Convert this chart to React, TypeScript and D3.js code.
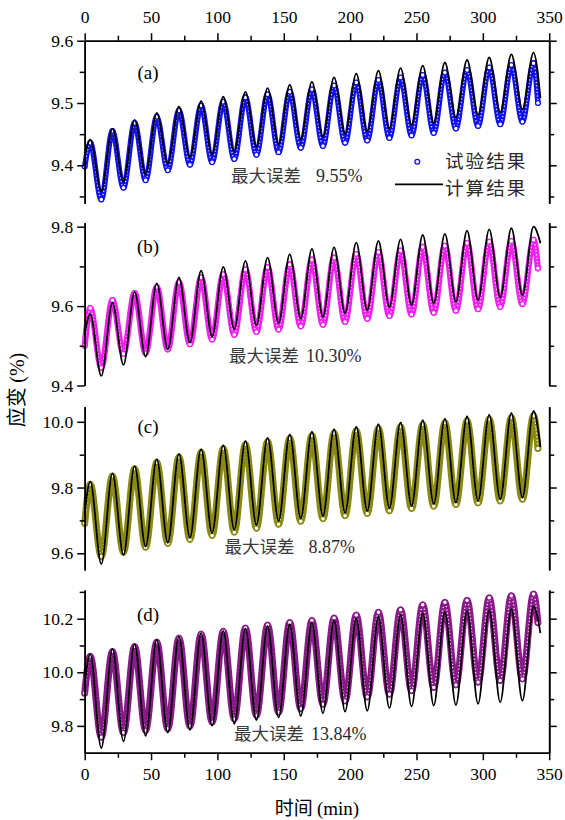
import React, { useEffect, useRef } from "react";
import * as d3 from "d3";

// Times (min) of the oscillation extrema, shared by all four panels
const peakTimes = [4.2, 20.9, 37.6, 54.3, 71.0, 87.7, 104.4, 121.1, 137.8, 154.5, 171.2, 187.9, 204.6, 221.3, 238.0, 254.7, 271.4, 288.1, 304.8, 321.5, 338.2];
const troughTimes = [12.5, 29.2, 45.9, 62.6, 79.3, 96.0, 112.7, 129.4, 146.1, 162.8, 179.5, 196.2, 212.9, 229.6, 246.3, 263.0, 279.7, 296.4, 313.1, 329.8];
// time of the last sample of each series
const calcEndTime = 343.4;
const expEndTime = 341.5;

// (a)
const calcPeaksA = [9.441, 9.459, 9.473, 9.484, 9.494, 9.503, 9.510, 9.518, 9.524, 9.529, 9.534, 9.541, 9.547, 9.552, 9.556, 9.560, 9.565, 9.569, 9.573, 9.578, 9.581];
const calcTroughsA = [9.358, 9.374, 9.386, 9.403, 9.413, 9.417, 9.422, 9.430, 9.434, 9.442, 9.446, 9.451, 9.455, 9.459, 9.465, 9.468, 9.477, 9.481, 9.485, 9.490];
const calcEndsA = [9.414, 9.508];
const expPeaksA = [9.436, 9.455, 9.468, 9.478, 9.488, 9.496, 9.502, 9.509, 9.514, 9.518, 9.522, 9.528, 9.533, 9.537, 9.541, 9.545, 9.549, 9.553, 9.557, 9.561, 9.564];
const expTroughsA = [9.345, 9.364, 9.376, 9.392, 9.401, 9.405, 9.410, 9.417, 9.421, 9.428, 9.431, 9.436, 9.440, 9.444, 9.448, 9.452, 9.459, 9.463, 9.466, 9.470];
const expEndsA = [9.398, 9.500];

// (b)
const calcPeaksB = [9.580, 9.609, 9.636, 9.657, 9.672, 9.689, 9.699, 9.714, 9.722, 9.730, 9.744, 9.748, 9.760, 9.764, 9.768, 9.779, 9.782, 9.790, 9.793, 9.796, 9.800];
const calcTroughsB = [9.424, 9.452, 9.473, 9.491, 9.508, 9.523, 9.542, 9.552, 9.557, 9.569, 9.573, 9.582, 9.590, 9.598, 9.603, 9.607, 9.611, 9.615, 9.622, 9.628];
const calcEndsB = [9.531, 9.758];
const expPeaksB = [9.595, 9.615, 9.633, 9.648, 9.660, 9.672, 9.680, 9.692, 9.698, 9.705, 9.717, 9.722, 9.731, 9.736, 9.740, 9.749, 9.752, 9.759, 9.762, 9.764, 9.767];
const expTroughsB = [9.445, 9.480, 9.482, 9.491, 9.504, 9.516, 9.528, 9.535, 9.541, 9.549, 9.553, 9.560, 9.568, 9.575, 9.579, 9.583, 9.588, 9.592, 9.598, 9.605];
const expEndsB = [9.500, 9.695];

// (c)
const calcPeaksC = [9.818, 9.843, 9.865, 9.886, 9.902, 9.917, 9.929, 9.942, 9.951, 9.962, 9.970, 9.978, 9.985, 9.993, 9.998, 10.005, 10.010, 10.017, 10.022, 10.027, 10.033];
const calcTroughsC = [9.567, 9.595, 9.620, 9.632, 9.647, 9.661, 9.671, 9.686, 9.698, 9.706, 9.713, 9.723, 9.729, 9.737, 9.744, 9.750, 9.754, 9.759, 9.764, 9.769];
const calcEndsC = [9.722, 9.924];
const expPeaksC = [9.810, 9.835, 9.857, 9.877, 9.893, 9.907, 9.919, 9.931, 9.940, 9.950, 9.958, 9.966, 9.973, 9.980, 9.985, 9.992, 9.997, 10.003, 10.008, 10.013, 10.019];
const expTroughsC = [9.590, 9.603, 9.618, 9.630, 9.642, 9.654, 9.664, 9.676, 9.688, 9.697, 9.705, 9.714, 9.721, 9.729, 9.736, 9.743, 9.748, 9.753, 9.759, 9.764];
const expEndsC = [9.691, 9.919];

// (d)
const calcPeaksD = [10.068, 10.087, 10.105, 10.121, 10.133, 10.146, 10.154, 10.164, 10.173, 10.180, 10.186, 10.195, 10.201, 10.207, 10.214, 10.220, 10.224, 10.229, 10.232, 10.236, 10.245];
const calcTroughsD = [9.717, 9.742, 9.763, 9.775, 9.785, 9.801, 9.808, 9.822, 9.831, 9.837, 9.847, 9.853, 9.856, 9.866, 9.872, 9.876, 9.878, 9.882, 9.888, 9.894];
const calcEndsD = [9.955, 10.146];
const expPeaksD = [10.060, 10.078, 10.096, 10.113, 10.128, 10.143, 10.153, 10.165, 10.176, 10.186, 10.193, 10.203, 10.214, 10.224, 10.233, 10.252, 10.261, 10.269, 10.278, 10.286, 10.292];
const expTroughsD = [9.758, 9.774, 9.783, 9.789, 9.799, 9.814, 9.826, 9.839, 9.851, 9.864, 9.881, 9.893, 9.908, 9.918, 9.931, 9.943, 9.953, 9.963, 9.969, 9.975];
const expEndsD = [9.922, 10.185];

// axis ticks
const xMajorTicks = [0, 50, 100, 150, 200, 250, 300, 350];
const xMinorTicks = [25, 75, 125, 175, 225, 275, 325];
const yMajorA = [9.4, 9.5, 9.6];
const yMinorA = [9.35, 9.45, 9.55];
const yMajorB = [9.4, 9.6, 9.8];
const yMinorB = [9.5, 9.7];
const yMajorC = [9.6, 9.8, 10.0];
const yMinorC = [9.7, 9.9];
const yMajorD = [9.8, 10.0, 10.2];
const yMinorD = [9.9, 10.1, 10.3];

const panelLabels = ["(a)", "(b)", "(c)", "(d)"];
const maxErrors = ["9.55%", "10.30%", "8.87%", "13.84%"];
const legendLabels = ["试验结果", "计算结果"];

const SERIF = "'Liberation Serif', 'Times New Roman', Times, serif";
const CJK = "'Noto Sans CJK SC', 'Noto Sans CJK JP', sans-serif";

type Pt = [number, number];

function buildSeries(ends: number[], peaks: number[], troughs: number[], endTime: number): Pt[] {
  const pts: Pt[] = [[0, ends[0]]];
  peaks.forEach((v, i) => {
    pts.push([peakTimes[i], v]);
    if (i < troughs.length) pts.push([troughTimes[i], troughs[i]]);
  });
  pts.push([endTime, ends[1]]);
  return pts;
}

const panels = [
  {
    top: 40.7, bottom: 203.3, domain: [9.339, 9.6], major: yMajorA, minor: yMinorA,
    color: "#1010f0", band: 5.6,
    calc: buildSeries(calcEndsA, calcPeaksA, calcTroughsA, calcEndTime),
    exp: buildSeries(expEndsA, expPeaksA, expTroughsA, expEndTime),
    labelY: 79, noteX: 231, noteNumX: 316, noteY: 181.5,
  },
  {
    top: 222.7, bottom: 385.5, domain: [9.4, 9.81], major: yMajorB, minor: yMinorB,
    color: "#f020f0", band: 6.2,
    calc: buildSeries(calcEndsB, calcPeaksB, calcTroughsB, calcEndTime),
    exp: buildSeries(expEndsB, expPeaksB, expTroughsB, expEndTime),
    labelY: 253, noteX: 229, noteNumX: 306, noteY: 361.5,
  },
  {
    top: 406.7, bottom: 570, domain: [9.549, 10.046], major: yMajorC, minor: yMinorC,
    color: "#8a8a10", band: 7,
    calc: buildSeries(calcEndsC, calcPeaksC, calcTroughsC, calcEndTime),
    exp: buildSeries(expEndsC, expPeaksC, expTroughsC, expEndTime),
    labelY: 433, noteX: 224.5, noteNumX: 308.5, noteY: 553,
  },
  {
    top: 590, bottom: 752.7, domain: [9.7, 10.307], major: yMajorD, minor: yMinorD,
    color: "#8a1a8a", band: 7,
    calc: buildSeries(calcEndsD, calcPeaksD, calcTroughsD, calcEndTime),
    exp: buildSeries(expEndsD, expPeaksD, expTroughsD, expEndTime),
    labelY: 621, noteX: 234, noteNumX: 311, noteY: 739.5,
  },
];

const X_LEFT = 84.7;
const X_RIGHT = 549.2;

function styleAxis(g: d3.Selection<SVGGElement, unknown, null, undefined>) {
  g.attr("font-family", null).attr("font-size", null)
    .style("font-family", SERIF).style("font-size", "17.5px");
  g.selectAll(".domain").attr("stroke", "#000").attr("stroke-width", 1.6);
  g.selectAll(".tick line").attr("stroke", "#000").attr("stroke-width", 1.5);
  g.selectAll(".tick text").attr("fill", "#000").style("font-family", SERIF);
}

export default function App() {
  const ref = useRef<SVGSVGElement>(null);

  useEffect(() => {
    const svg = d3.select(ref.current as SVGSVGElement);
    svg.selectAll("*").remove();

    const x = d3.scaleLinear().domain([0, 350]).range([X_LEFT, X_RIGHT]);

    panels.forEach((p, idx) => {
      const y = d3.scaleLinear().domain(p.domain).range([p.bottom, p.top]);
      const line = d3
        .line<Pt>()
        .x((d) => x(d[0]))
        .y((d) => y(d[1]))
        .curve(d3.curveMonotoneX);
      const g = svg.append("g");

      // measured series: dense ring markers form a band along the record
      g.append("path")
        .attr("d", line(p.exp))
        .attr("fill", "none")
        .attr("stroke", p.color)
        .attr("stroke-width", p.band)
        .attr("stroke-linecap", "round")
        .attr("stroke-linejoin", "round");
      g.append("path")
        .attr("d", line(p.exp))
        .attr("fill", "none")
        .attr("stroke", "#fff")
        .attr("stroke-width", 1.5)
        .attr("stroke-dasharray", "0 3.4")
        .attr("stroke-linecap", "round")
        .attr("opacity", 0.9);
      g.selectAll("circle.exp")
        .data(p.exp)
        .join("circle")
        .attr("class", "exp")
        .attr("cx", (d) => x(d[0]))
        .attr("cy", (d) => y(d[1]))
        .attr("r", 2.4)
        .attr("fill", "#fff")
        .attr("stroke", p.color)
        .attr("stroke-width", 1.3);

      // calculated series
      g.append("path")
        .attr("d", line(p.calc))
        .attr("fill", "none")
        .attr("stroke", "#000")
        .attr("stroke-width", 1.8);

      // left axis
      const left = g.append("g").attr("transform", `translate(${X_LEFT},0)`);
      left.call(
        d3.axisLeft(y).tickValues(p.major).tickSize(7.5).tickSizeOuter(0).tickPadding(4).tickFormat(d3.format(".1f"))
      );
      styleAxis(left);
      const leftMinor = g.append("g").attr("transform", `translate(${X_LEFT},0)`);
      leftMinor.call(d3.axisLeft(y).tickValues(p.minor).tickSize(5).tickSizeOuter(0).tickFormat(() => ""));
      styleAxis(leftMinor);

      // right axis
      const right = g.append("g").attr("transform", `translate(${X_RIGHT},0)`);
      right.call(d3.axisRight(y).tickValues(p.major).tickSize(7.5).tickSizeOuter(0).tickFormat(() => ""));
      styleAxis(right);
      const rightMinor = g.append("g").attr("transform", `translate(${X_RIGHT},0)`);
      rightMinor.call(d3.axisRight(y).tickValues(p.minor).tickSize(5).tickSizeOuter(0).tickFormat(() => ""));
      styleAxis(rightMinor);

      if (idx === 0) {
        const topAx = g.append("g").attr("transform", `translate(0,${p.top})`);
        topAx.call(d3.axisTop(x).tickValues(xMajorTicks).tickSize(7.5).tickSizeOuter(0).tickPadding(10).tickFormat(d3.format("d")));
        styleAxis(topAx);
        const topMinor = g.append("g").attr("transform", `translate(0,${p.top})`);
        topMinor.call(d3.axisTop(x).tickValues(xMinorTicks).tickSize(5).tickSizeOuter(0).tickFormat(() => ""));
        styleAxis(topMinor);
      }
      if (idx === panels.length - 1) {
        const botAx = g.append("g").attr("transform", `translate(0,${p.bottom})`);
        botAx.call(d3.axisBottom(x).tickValues(xMajorTicks).tickSize(7.5).tickSizeOuter(0).tickPadding(7.5).tickFormat(d3.format("d")));
        styleAxis(botAx);
        const botMinor = g.append("g").attr("transform", `translate(0,${p.bottom})`);
        botMinor.call(d3.axisBottom(x).tickValues(xMinorTicks).tickSize(5).tickSizeOuter(0).tickFormat(() => ""));
        styleAxis(botMinor);
      }

      // panel tag
      g.append("text")
        .attr("x", 148)
        .attr("y", p.labelY)
        .attr("text-anchor", "middle")
        .style("font-family", SERIF)
        .style("font-size", "19px")
        .text(panelLabels[idx]);

      // maximum error note
      g.append("text")
        .attr("x", p.noteX)
        .attr("y", p.noteY)
        .style("font-family", CJK)
        .style("font-size", "17.5px")
        .attr("fill", "#3a3a3a")
        .text("最大误差");
      g.append("text")
        .attr("x", p.noteNumX)
        .attr("y", p.noteY)
        .style("font-family", SERIF)
        .style("font-size", "18px")
        .attr("fill", "#2a2a2a")
        .text(maxErrors[idx]);
    });

    // legend in panel (a)
    const lg = svg.append("g");
    lg.append("circle")
      .attr("cx", 417.3)
      .attr("cy", 161.7)
      .attr("r", 2.4)
      .attr("fill", "none")
      .attr("stroke", panels[0].color)
      .attr("stroke-width", 1.3);
    lg.append("text")
      .attr("x", 445)
      .attr("y", 167.5)
      .style("font-family", CJK)
      .style("font-size", "18.6px")
      .style("letter-spacing", "2px")
      .attr("fill", "#2a2a2a")
      .text(legendLabels[0]);
    lg.append("line")
      .attr("x1", 395)
      .attr("x2", 443)
      .attr("y1", 184.3)
      .attr("y2", 184.3)
      .attr("stroke", "#000")
      .attr("stroke-width", 1.8);
    lg.append("text")
      .attr("x", 445)
      .attr("y", 194.5)
      .style("font-family", CJK)
      .style("font-size", "18.6px")
      .style("letter-spacing", "2px")
      .attr("fill", "#2a2a2a")
      .text(legendLabels[1]);

    // axis titles
    const yt = svg
      .append("text")
      .attr("transform", "translate(24,390) rotate(-90)")
      .attr("text-anchor", "middle")
      .style("font-size", "20px");
    yt.append("tspan").style("font-family", CJK).text("应变 ");
    yt.append("tspan").style("font-family", SERIF).text("(%)");

    const xt = svg
      .append("text")
      .attr("x", (X_LEFT + X_RIGHT) / 2)
      .attr("y", 815)
      .attr("text-anchor", "middle")
      .style("font-size", "19px");
    xt.append("tspan").style("font-family", CJK).text("时间 ");
    xt.append("tspan").style("font-family", SERIF).text("(min)");
  }, []);

  return (
    <svg
      ref={ref}
      width={565}
      height={820}
      style={{ position: "absolute", left: 0, top: 0, display: "block", background: "#fff" }}
    />
  );
}
